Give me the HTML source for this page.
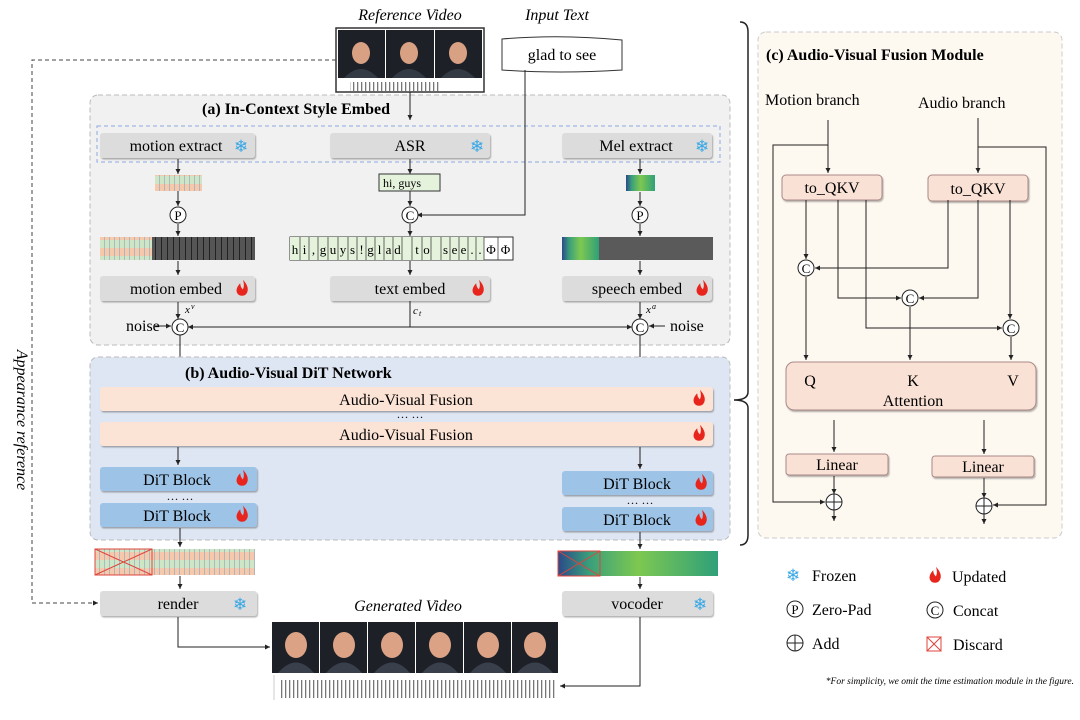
<!DOCTYPE html>
<html><head><meta charset="utf-8"><style>
html,body{margin:0;padding:0;background:#fff}
svg{display:block}
text{font-family:"Liberation Serif",serif}
.sn{font-family:"DejaVu Sans",sans-serif;fill:#35a6e6;font-size:17px}
.tk{font-size:13px;text-anchor:middle}
</style></head><body>
<svg width="1080" height="720" viewBox="0 0 1080 720" xmlns="http://www.w3.org/2000/svg">
<defs>
<marker id="ar" markerWidth="6" markerHeight="6" refX="5" refY="3" orient="auto"><path d="M0,0.5 L5,3 L0,5.5z" fill="#222"/></marker>
<symbol id="fl" viewBox="-8 -10 16 20"><path d="M1,-10 C7,-4 8,2 5,6 C3,9 -3,9 -5,6 C-8,2 -5,-3 -2,-6 C-2,-2 0,0 1,1 C3,-3 2,-7 1,-10Z" fill="#e8251c"/></symbol>
<pattern id="mstrip" width="5" height="16" patternUnits="userSpaceOnUse"><rect width="5" height="8" fill="#cfe6c6"/><rect y="8" width="5" height="8" fill="#f6c9ad"/><rect x="4.3" width="0.7" height="16" fill="#9ab"/></pattern>
<pattern id="dstrip" width="6" height="23" patternUnits="userSpaceOnUse"><rect width="6" height="23" fill="#555"/><rect x="5" width="1" height="23" fill="#222"/></pattern>
<pattern id="wave" width="4" height="26" patternUnits="userSpaceOnUse"><rect x="1" y="4" width="1.3" height="18" fill="#777"/></pattern>
<linearGradient id="mel" x1="0" x2="1"><stop offset="0" stop-color="#2b4a8a"/><stop offset="0.2" stop-color="#3aa07a"/><stop offset="0.5" stop-color="#7ec850"/><stop offset="1" stop-color="#2fa07a"/></linearGradient>
<filter id="sh"><feDropShadow dx="1" dy="1.5" stdDeviation="0.8" flood-opacity="0.3"/></filter>
</defs>

<!-- top labels -->
<text x="410" y="20" font-size="16" font-style="italic" text-anchor="middle">Reference Video</text>
<text x="557" y="20" font-size="16" font-style="italic" text-anchor="middle">Input Text</text>
<rect x="336" y="28" width="148" height="64" fill="#fff" stroke="#333" stroke-width="1.5"/>
<rect x="338" y="30" width="47" height="48" fill="#1e2028"/><rect x="386" y="30" width="48" height="48" fill="#1e2028"/><rect x="435" y="30" width="47" height="48" fill="#1e2028"/>
<ellipse cx="361" cy="53" rx="9" ry="11" fill="#d9a184"/><ellipse cx="409" cy="53" rx="9" ry="11" fill="#d9a184"/><ellipse cx="458" cy="53" rx="9" ry="11" fill="#d9a184"/>
<path d="M344,78 Q361,60 378,78Z M392,78 Q409,60 426,78Z M441,78 Q458,60 475,78Z" fill="#333a44"/>
<rect x="350" y="79" width="90" height="12" fill="url(#wave)"/>
<path d="M502,39 Q560,34 622,40 L622,70 Q560,74 502,70Z" fill="#fff" stroke="#333"/>
<text x="562" y="60" font-size="16" text-anchor="middle">glad to see</text>

<!-- appearance dashed -->
<path d="M336,60 H32 V603 H98" fill="none" stroke="#444" stroke-dasharray="4 3" marker-end="url(#ar)"/>
<text transform="translate(17,420) rotate(90)" font-size="16" font-style="italic" text-anchor="middle">Appearance reference</text>

<!-- (a) box -->
<rect x="90" y="95" width="640" height="250" rx="8" fill="#f1f1f1" stroke="#bbb" stroke-dasharray="5 3"/>
<text x="296" y="114" font-size="16" font-weight="bold" text-anchor="middle">(a) In-Context Style Embed</text>
<path d="M410,92 V120" stroke="#222" marker-end="url(#ar)"/>
<rect x="97" y="126" width="623" height="36" fill="none" stroke="#8fa9e0" stroke-dasharray="4 3"/>
<g filter="url(#sh)" fill="#dcdcdc">
<rect x="100" y="133" width="155" height="25" rx="3"/><rect x="330" y="133" width="160" height="25" rx="3"/><rect x="562" y="133" width="150" height="25" rx="3"/>
<rect x="100" y="276" width="155" height="25" rx="3"/><rect x="330" y="276" width="160" height="25" rx="3"/><rect x="562" y="276" width="150" height="25" rx="3"/>
<rect x="100" y="591" width="157" height="25" rx="3"/><rect x="562" y="591" width="151" height="25" rx="3"/>
</g>
<g font-size="16" text-anchor="middle">
<text x="176" y="151">motion extract</text><text x="410" y="151">ASR</text><text x="636" y="151">Mel extract</text>
<text x="176" y="294">motion embed</text><text x="410" y="294">text embed</text><text x="637" y="294">speech embed</text>
<text x="178" y="609">render</text><text x="637" y="609">vocoder</text>
</g>
<text class="sn" x="234" y="152">❄</text><text class="sn" x="470" y="152">❄</text><text class="sn" x="695" y="152">❄</text>
<text class="sn" x="233" y="610">❄</text><text class="sn" x="693" y="610">❄</text>
<use href="#fl" x="235" y="279" width="14" height="19"/><use href="#fl" x="471" y="279" width="14" height="19"/><use href="#fl" x="695" y="279" width="14" height="19"/>

<g stroke="#222" fill="none" marker-end="url(#ar)">
<path d="M178,159 V174"/><path d="M178,191 V206"/><path d="M178,224 V236"/><path d="M178,261 V275"/>
<path d="M410,159 V174"/><path d="M410,191 V206"/><path d="M410,224 V236"/><path d="M410,261 V275"/>
<path d="M640,159 V174"/><path d="M640,192 V206"/><path d="M640,224 V236"/><path d="M640,261 V275"/>
<path d="M525,70 V215 H417"/>
<path d="M178,302 V319"/><path d="M640,302 V319"/>
<path d="M410,301 V327 H188"/><path d="M410,327 H632"/>
<path d="M155,326 H171"/><path d="M665,326 H649"/>
<path d="M180,335 V380"/><path d="M640,335 V380"/>
</g>
<rect x="155" y="175" width="47" height="16" fill="url(#mstrip)"/>
<rect x="379" y="174" width="61" height="17" fill="#e6f3dc" stroke="#333"/><text x="383" y="187" font-size="12">hi, guys</text>
<rect x="626" y="175" width="29" height="16" fill="url(#mel)"/>
<g fill="#fff" stroke="#222"><circle cx="178" cy="215" r="8"/><circle cx="410" cy="215" r="8"/><circle cx="640" cy="215" r="8"/><circle cx="180" cy="327" r="8"/><circle cx="640" cy="327" r="8"/></g>
<g font-size="13" text-anchor="middle"><text x="178" y="220">P</text><text x="410" y="220">C</text><text x="640" y="220">P</text><text x="180" y="332">C</text><text x="640" y="332">C</text></g>
<rect x="100" y="237" width="52" height="23" fill="url(#mstrip)"/><rect x="152" y="237" width="103" height="23" fill="url(#dstrip)"/>
<!-- tokens -->
<rect x="290" y="237" width="223" height="23" fill="#fff" stroke="#333"/>
<rect x="290" y="237" width="194" height="23" fill="#e6f3dc"/>
<path d="M300,237v23M309,237v23M318,237v23M328,237v23M338,237v23M348,237v23M357,237v23M366,237v23M375,237v23M384,237v23M393,237v23M402,237v23M412,237v23M422,237v23M431,237v23M441,237v23M450,237v23M459,237v23M468,237v23M476,237v23M484,237v23M498,237v23" stroke="#444" stroke-width="0.8"/>
<g class="tk">
<text x="295" y="254">h</text><text x="304.5" y="254">i</text><text x="313.5" y="254">,</text><text x="323" y="254">g</text><text x="333" y="254">u</text><text x="343" y="254">y</text><text x="352.5" y="254">s</text><text x="361.5" y="254">!</text><text x="370.5" y="254">g</text><text x="379.5" y="254">l</text><text x="388.5" y="254">a</text><text x="397.5" y="254">d</text><text x="417" y="254">t</text><text x="426.5" y="254">o</text><text x="445.5" y="254">s</text><text x="454.5" y="254">e</text><text x="463.5" y="254">e</text><text x="472" y="254">.</text><text x="480" y="254">.</text><text x="491" y="254">Φ</text><text x="505.5" y="254">Φ</text>
</g>
<rect x="562" y="237" width="37" height="23" fill="url(#mel)"/><rect x="599" y="237" width="114" height="23" fill="#5a5a5a"/>
<text x="126" y="331" font-size="16">noise</text><text x="670" y="331" font-size="16">noise</text>
<text x="185" y="313" font-size="11" font-style="italic">x</text><text x="191" y="309" font-size="8" font-style="italic">v</text>
<text x="413" y="314" font-size="11" font-style="italic">c</text><text x="419" y="316" font-size="8" font-style="italic">t</text>
<text x="646" y="313" font-size="11" font-style="italic">x</text><text x="652" y="309" font-size="8" font-style="italic">a</text>

<!-- (b) -->
<rect x="90" y="357" width="640" height="183" rx="8" fill="#dfe6f3" stroke="#bbb" stroke-dasharray="5 3"/>
<text x="185" y="378" font-size="16" font-weight="bold">(b) Audio-Visual DiT Network</text>
<g filter="url(#sh)"><rect x="100" y="387" width="613" height="24" rx="3" fill="#fbe3d5"/><rect x="100" y="422" width="613" height="24" rx="3" fill="#fbe3d5"/>
<g fill="#9dc3e6"><rect x="100" y="467" width="157" height="24" rx="3"/><rect x="100" y="503" width="157" height="24" rx="3"/><rect x="562" y="471" width="151" height="24" rx="3"/><rect x="562" y="507" width="151" height="24" rx="3"/></g></g>
<g font-size="16" text-anchor="middle"><text x="406" y="405">Audio-Visual Fusion</text><text x="406" y="440">Audio-Visual Fusion</text>
<text x="177" y="485">DiT Block</text><text x="177" y="521">DiT Block</text><text x="637" y="489">DiT Block</text><text x="637" y="525">DiT Block</text></g>
<g font-size="12" text-anchor="middle"><text x="410" y="418">… …</text><text x="180" y="500">… …</text><text x="640" y="504">… …</text></g>
<use href="#fl" x="692" y="389" width="14" height="19"/><use href="#fl" x="692" y="424" width="14" height="19"/>
<use href="#fl" x="235" y="469" width="14" height="19"/><use href="#fl" x="235" y="505" width="14" height="19"/>
<use href="#fl" x="694" y="473" width="14" height="19"/><use href="#fl" x="694" y="509" width="14" height="19"/>
<g stroke="#222" fill="none" marker-end="url(#ar)">
<path d="M178,447 V465"/><path d="M640,447 V469"/><path d="M180,528 V547"/><path d="M640,532 V549"/>
<path d="M180,576 V589"/><path d="M640,577 V589"/>
<path d="M178,617 V647 H270"/><path d="M640,617 V686 H560"/>
</g>
<path d="M740,22 Q748,22 748,32 V392 Q748,400 734,400 Q748,400 748,408 V535 Q748,545 740,545" fill="none" stroke="#222" stroke-width="1.5"/>

<!-- strips -->
<rect x="95" y="549" width="160" height="26" fill="url(#mstrip)"/>
<rect x="95" y="549" width="57" height="26" fill="none" stroke="#e0443c"/><path d="M95,549 L152,575 M152,549 L95,575" stroke="#e0443c"/>
<rect x="558" y="551" width="160" height="25" fill="url(#mel)"/>
<rect x="558" y="551" width="42" height="25" fill="none" stroke="#e0443c"/><path d="M558,551 L600,576 M600,551 L558,576" stroke="#e0443c"/>

<text x="408" y="611" font-size="16" font-style="italic" text-anchor="middle">Generated Video</text>
<g fill="#1e2028"><rect x="272" y="622" width="47" height="51"/><rect x="320" y="622" width="47" height="51"/><rect x="368" y="622" width="47" height="51"/><rect x="416" y="622" width="47" height="51"/><rect x="464" y="622" width="47" height="51"/><rect x="512" y="622" width="46" height="51"/></g>
<g fill="#dba286"><ellipse cx="296" cy="645" rx="11" ry="13"/><ellipse cx="344" cy="645" rx="11" ry="13"/><ellipse cx="392" cy="645" rx="11" ry="13"/><ellipse cx="440" cy="645" rx="11" ry="13"/><ellipse cx="488" cy="645" rx="11" ry="13"/><ellipse cx="535" cy="645" rx="11" ry="13"/></g>
<g fill="#3a3f4c"><path d="M278,673 Q296,652 314,673Z M326,673 Q344,652 362,673Z M374,673 Q392,652 410,673Z M422,673 Q440,652 458,673Z M470,673 Q488,652 506,673Z M517,673 Q535,652 553,673Z"/></g>
<rect x="280" y="676" width="276" height="22" fill="url(#wave)"/>
<path d="M274,675 V700" stroke="#ccc"/>

<!-- (c) -->
<rect x="758" y="32" width="304" height="506" rx="8" fill="#fdf8f0" stroke="#ccc" stroke-dasharray="5 3"/>
<text x="766" y="60" font-size="16" font-weight="bold">(c) Audio-Visual Fusion Module</text>
<text x="765" y="105" font-size="16">Motion branch</text><text x="918" y="108" font-size="16">Audio branch</text>
<g filter="url(#sh)" fill="#f9e2d5" stroke="#a88"><rect x="782" y="175" width="100" height="25" rx="4"/><rect x="928" y="175" width="100" height="26" rx="4"/>
<rect x="786" y="362" width="250" height="48" rx="8"/><rect x="786" y="454" width="102" height="21" rx="3"/><rect x="932" y="456" width="102" height="21" rx="3"/></g>
<g font-size="16" text-anchor="middle"><text x="832" y="193">to_QKV</text><text x="978" y="194">to_QKV</text>
<text x="810" y="386">Q</text><text x="913" y="386">K</text><text x="1013" y="386">V</text><text x="913" y="406">Attention</text>
<text x="837" y="470">Linear</text><text x="983" y="472">Linear</text></g>
<g stroke="#222" fill="none" marker-end="url(#ar)">
<path d="M828,120 V173"/><path d="M828,145 H773 V502 H825"/>
<path d="M978,118 V173"/><path d="M978,147 H1046 V505 H993"/>
<path d="M806,200 V259"/><path d="M948,200 V268 H815"/>
<path d="M838,200 V298 H901"/><path d="M978,200 V298 H919"/>
<path d="M866,200 V328 H1002"/><path d="M1010,200 V319"/>
<path d="M806,277 V360"/><path d="M910,307 V360"/><path d="M1011,337 V360"/>
<path d="M834,420 V452"/><path d="M984,420 V454"/>
<path d="M834,476 V494"/><path d="M984,478 V498"/>
<path d="M834,510 V521"/><path d="M984,514 V524"/>
</g>
<g fill="#fff" stroke="#222"><circle cx="806" cy="268" r="8"/><circle cx="910" cy="298" r="8"/><circle cx="1011" cy="328" r="8"/>
<circle cx="834" cy="502" r="8"/><circle cx="984" cy="506" r="8"/></g>
<path d="M826,502H842M834,494V510M976,506H992M984,498V514" stroke="#222"/>
<g font-size="13" text-anchor="middle"><text x="806" y="273">C</text><text x="910" y="303">C</text><text x="1011" y="333">C</text></g>

<!-- legend -->
<text class="sn" x="786" y="581">❄</text><text x="812" y="581" font-size="16">Frozen</text>
<use href="#fl" x="928" y="566" width="14" height="19"/><text x="952" y="582" font-size="16">Updated</text>
<circle cx="795" cy="609" r="8" fill="#fff" stroke="#222"/><text x="795" y="614" font-size="13" text-anchor="middle">P</text><text x="812" y="615" font-size="16">Zero-Pad</text>
<circle cx="935" cy="610" r="8" fill="#fff" stroke="#222"/><text x="935" y="615" font-size="13" text-anchor="middle">C</text><text x="953" y="616" font-size="16">Concat</text>
<circle cx="795" cy="643" r="8" fill="#fff" stroke="#222"/><path d="M787,643H803M795,635V651" stroke="#222"/><text x="812" y="649" font-size="16">Add</text>
<rect x="927" y="637" width="14" height="14" fill="none" stroke="#e0443c"/><path d="M927,637L941,651M941,637L927,651" stroke="#e0443c"/><text x="953" y="650" font-size="16">Discard</text>
<text x="1074" y="684" font-size="9.5" font-style="italic" text-anchor="end">*For simplicity, we omit the time estimation module in the figure.</text>
</svg>
</body></html>
